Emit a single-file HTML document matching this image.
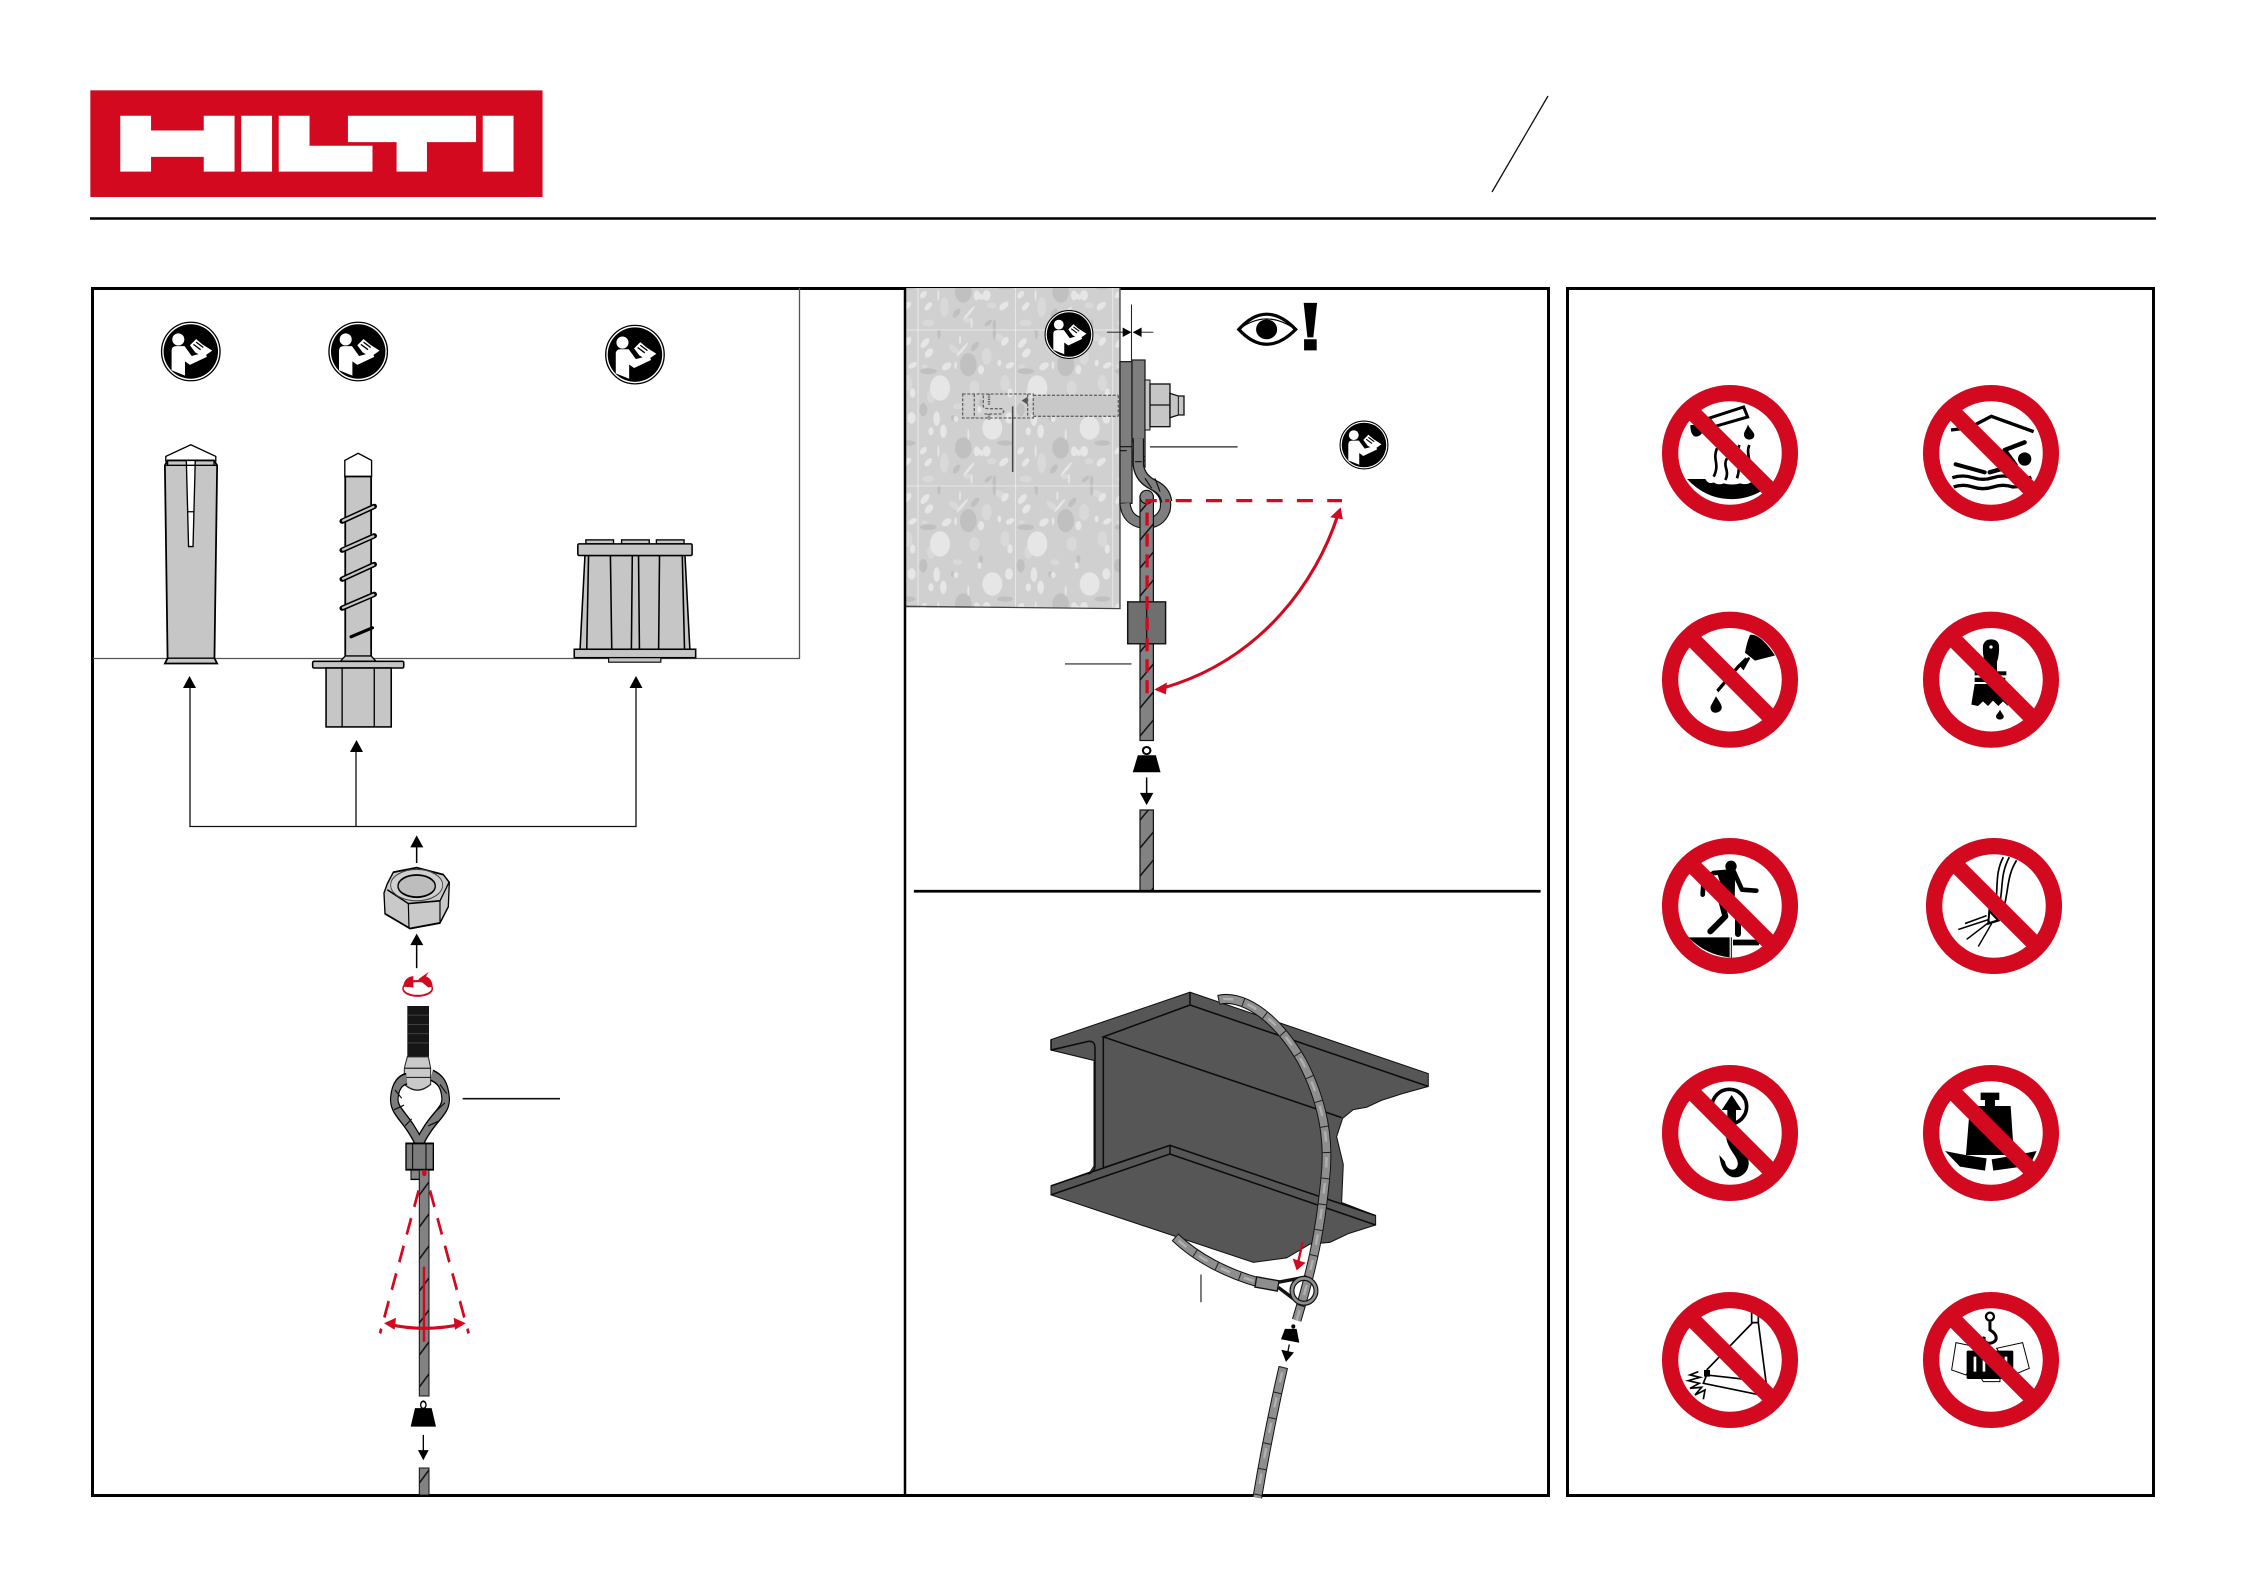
<!DOCTYPE html>
<html><head><meta charset="utf-8"><title>Hilti</title>
<style>html,body{margin:0;padding:0;background:#fff}svg{display:block}</style></head>
<body>
<svg xmlns="http://www.w3.org/2000/svg" width="2246" height="1588" viewBox="0 0 2246 1588">
<defs>
<g id="rd">
  <circle r="65.500" fill="#fff" stroke="#000" stroke-width="3"/><circle r="61" fill="#000"/>
  <circle cx="-28" cy="-27" r="13.500" fill="#fff"/>
  <path d="M-43,-2Q-43,-12 -32,-12L-14,-12L2,10L32,2L36,12L-2,30L-13,22V54L-43,42Z" fill="#fff"/>
  <path d="M-2,-14L12,-28L26,-16L48,-2L28,12L10,2Z" fill="#fff"/>
  <path d="M6,-16L22,-4M12,-21L28,-9" stroke="#000" stroke-width="3" fill="none"/>
</g>
<pattern id="hatch1" patternUnits="userSpaceOnUse" x="419.300" y="1170" width="9.700" height="32">
  <rect width="9.700" height="32" fill="#828282"/>
  <path d="M0,25L9.700,12" stroke="#111" stroke-width="1.500"/>
</pattern>
<pattern id="hatch2" patternUnits="userSpaceOnUse" x="1140" y="490" width="13.400" height="28">
  <rect width="13.400" height="28" fill="#828282"/>
  <path d="M0,22L13.400,6" stroke="#111" stroke-width="1.500"/>
</pattern>
<pattern id="con" patternUnits="userSpaceOnUse" x="38" y="125" width="292" height="468">
  <rect width="292" height="468" fill="#d0d0d0"/>
  <g fill="#d9d9d9">
    <ellipse cx="207" cy="80" rx="15" ry="25"/><ellipse cx="247" cy="25" rx="18" ry="10" transform="rotate(30 247 25)"/>
    <ellipse cx="32" cy="448" rx="18" ry="10"/><ellipse cx="80" cy="400" rx="13" ry="30"/><ellipse cx="120" cy="230" rx="14" ry="9"/>
    <ellipse cx="170" cy="175" rx="15" ry="22"/><ellipse cx="222" cy="395" rx="14" ry="9"/><ellipse cx="40" cy="200" rx="12" ry="20"/>
    <ellipse cx="110" cy="60" rx="20" ry="9" transform="rotate(40 110 60)"/><ellipse cx="262" cy="160" rx="14" ry="24"/>
    <ellipse cx="150" cy="440" rx="13" ry="8"/><ellipse cx="20" cy="110" rx="10" ry="6"/>
  </g>
  <g fill="#c0c0c0">
    <ellipse cx="152" cy="105" rx="25" ry="35"/><ellipse cx="32" cy="125" rx="25" ry="9"/><ellipse cx="137" cy="355" rx="25" ry="32"/>
    <ellipse cx="17" cy="240" rx="12" ry="20"/><ellipse cx="262" cy="340" rx="24" ry="8"/><ellipse cx="117" cy="418" rx="16" ry="8" transform="rotate(-55 117 418)"/>
    <ellipse cx="172" cy="50" rx="17" ry="8" transform="rotate(-50 172 50)"/><ellipse cx="212" cy="448" rx="14" ry="6" transform="rotate(-40 212 448)"/>
    <ellipse cx="230" cy="8" rx="5" ry="22"/><ellipse cx="230" cy="455" rx="5" ry="18"/><ellipse cx="64" cy="8" rx="5" ry="20"/>
    <ellipse cx="105" cy="265" rx="5" ry="9"/><ellipse cx="190" cy="220" rx="6" ry="12"/>
  </g>
  <g fill="#e6e6e6">
    <ellipse cx="67" cy="175" rx="30" ry="38"/><ellipse cx="224" cy="295" rx="30" ry="35"/>
    <ellipse cx="22" cy="40" rx="18" ry="9" transform="rotate(-50 22 40)"/><ellipse cx="34" cy="70" rx="16" ry="10" transform="rotate(-50 34 70)"/>
    <ellipse cx="87" cy="110" rx="16" ry="10" transform="rotate(-35 87 110)"/><ellipse cx="277" cy="107" rx="14" ry="8" transform="rotate(-30 277 107)"/>
    <ellipse cx="114" cy="107" rx="4" ry="12"/><ellipse cx="17" cy="363" rx="13" ry="8" transform="rotate(-50 17 363)"/>
    <ellipse cx="32" cy="398" rx="15" ry="8" transform="rotate(-50 32 398)"/><ellipse cx="154" cy="418" rx="26" ry="4" transform="rotate(-50 154 418)"/>
    <ellipse cx="187" cy="368" rx="13" ry="8" transform="rotate(45 187 368)"/><ellipse cx="257" cy="398" rx="15" ry="9" transform="rotate(-45 257 398)"/>
    <ellipse cx="162" cy="448" rx="3" ry="15"/><ellipse cx="57" cy="267" rx="10" ry="22"/><ellipse cx="77" cy="305" rx="10" ry="20"/>
    <ellipse cx="274" cy="265" rx="12" ry="17"/><ellipse cx="207" cy="365" rx="12" ry="16"/><ellipse cx="177" cy="365" rx="9" ry="15"/>
    <ellipse cx="152" cy="315" rx="3" ry="16"/><ellipse cx="62" cy="365" rx="3" ry="18"/><ellipse cx="134" cy="60" rx="26" ry="4" transform="rotate(-50 134 60)"/>
    <ellipse cx="127" cy="30" rx="3" ry="14"/><ellipse cx="262" cy="35" rx="15" ry="9" transform="rotate(-55 262 35)"/>
    <ellipse cx="277" cy="190" rx="8" ry="14"/><ellipse cx="190" cy="120" rx="9" ry="14"/><ellipse cx="115" cy="268" rx="7" ry="9"/>
    <ellipse cx="245" cy="100" rx="6" ry="10"/><ellipse cx="185" cy="240" rx="6" ry="10"/><ellipse cx="40" cy="305" rx="8" ry="12"/>
    <ellipse cx="262" cy="395" rx="13" ry="8" transform="rotate(-45 262 395)"/>
  </g>
  <path d="M0,0H292M0,0V468" stroke="#f2f2f2" stroke-width="4" fill="none"/>
</pattern>
</defs>
<rect width="2246" height="1588" fill="#fff"/>

<!-- header + logo + panels -->
<g transform="translate(60 60) scale(.4464)">
  <rect x="68" y="68" width="1013" height="239" fill="#d2091f"/>
  <path fill="#fff" d="M135,125H204V158H322V125H391V250H322V217H204V250H135ZM406,125H475V250H406ZM490,125H559V192H700V250H490ZM645,125H932V184H822V250H754V184H645ZM947,125H1016V250H947Z"/>
</g>
<line x1="90" y1="218.500" x2="2156" y2="218.500" stroke="#000" stroke-width="2.500"/>
<line x1="1548" y1="96" x2="1492" y2="192" stroke="#111" stroke-width="1.300"/>
<rect x="92.500" y="288.500" width="1456" height="1207" fill="none" stroke="#000" stroke-width="3"/>
<rect x="1567.500" y="288.500" width="586" height="1207" fill="none" stroke="#000" stroke-width="3"/>
<path d="M93,658.500H799.500V288" fill="none" stroke="#555" stroke-width="1.300"/>

<!-- panel 1 anchors -->
<g transform="translate(60 60) scale(.4464)" stroke="#000" stroke-width="3">
  <use href="#rd" transform="translate(293 653)" stroke="none"/>
  <use href="#rd" transform="translate(668 653)" stroke="none"/>
  <use href="#rd" transform="translate(1288 660)" stroke="none"/>
  <path d="M237,900V888L293,862L349,888V900" fill="#fff"/>
  <path d="M241,897H345L352,908L346,1340L352,1352H235L241,1340L235,908Z" fill="#c6c6c6" stroke-width="4"/>
  <path d="M283,897H303L298,1090H288Z" fill="#fff" stroke-width="3"/>
  <path d="M285,1012H301M241,1340H346M235,908H352M241,897V908M345,897V908" fill="none"/>
  <path d="M638,935V897L668,881L698,897V935" fill="#fff"/>
  <rect x="639" y="933" width="58" height="405" fill="#c6c6c6" stroke-width="4"/>
  <path d="M639,1335L628,1347H708L697,1335Z" fill="#c6c6c6"/>
  <rect x="566" y="1347" width="204" height="15" rx="3" fill="#c6c6c6" stroke-width="3.500"/>
  <rect x="596" y="1362" width="146" height="132" fill="#c6c6c6" stroke-width="3.500"/>
  <path d="M632,1362V1494M704,1362V1494" fill="none"/>
  <g fill="none" stroke="#000" stroke-width="12" stroke-linecap="round"><path d="M632,1033L704,1000M632,1098L704,1066M632,1163L704,1130M632,1228L704,1197"/></g>
  <path d="M652,1292L700,1272" fill="none" stroke="#000" stroke-width="7" stroke-linecap="round"/>
  <g fill="none" stroke="#c6c6c6" stroke-width="5" stroke-linecap="round"><path d="M634,1032L702,1001M634,1097L702,1067M634,1162L702,1131M634,1227L702,1198"/></g>
  <rect x="1178" y="1075" width="62" height="9" fill="#c6c6c6"/><rect x="1258" y="1075" width="62" height="9" fill="#c6c6c6"/><rect x="1336" y="1075" width="62" height="9" fill="#c6c6c6"/>
  <path d="M1176,1110H1400L1411,1320H1165Z" fill="#c6c6c6" stroke-width="3.500"/>
  <rect x="1160" y="1084" width="256" height="26" rx="3" fill="#c6c6c6" stroke-width="3.500"/>
  <rect x="1152" y="1320" width="272" height="19" fill="#c6c6c6" stroke-width="3.500"/>
  <rect x="1229" y="1339" width="117" height="10" fill="#c6c6c6" stroke-width="2.500"/>
  <path d="M1184,1112L1180,1320M1233,1110L1236,1320M1282,1110L1280,1320M1296,1110L1298,1320M1343,1110L1341,1320M1394,1112L1399,1320" fill="none" stroke-width="3.500"/>
</g>

<!-- arrows to anchors -->
<g fill="none" stroke="#111" stroke-width="1.300">
  <path d="M190,686V826.500H636V686"/><path d="M356,750V826.500"/>
</g>
<g fill="#000">
  <path d="M189.500,676L183,688H196Z"/><path d="M356.500,740L350,752H363Z"/><path d="M636,676L629.500,688H642.500Z"/>
</g>

<!-- panel 1 lower assembly -->
<g transform="translate(300 780) scale(.3333 .4612)">
  <path d="M350,180V140" stroke="#000" stroke-width="4.500" fill="none"/><path d="M350,120L331,146H370Z"/>
  <path d="M350,408V355" stroke="#000" stroke-width="4.500" fill="none"/><path d="M350,333L331,358H370Z"/>
  <path d="M252,245L262,225L280,200L350,190L430,205L448,222L445,275L420,310L330,322L255,290Z" fill="#c9c9c9" stroke="#000" stroke-width="4"/>
  <path d="M262,238L325,268L420,262L447,222M325,268L327,320M420,262V310" fill="none" stroke="#000" stroke-width="3.500"/>
  <ellipse cx="350" cy="228" rx="78" ry="34" fill="#d0d0d0" stroke="#444" stroke-width="2.500"/>
  <ellipse cx="350" cy="230" rx="56" ry="24" fill="#bdbdbd" stroke="#000" stroke-width="4"/>
  <ellipse cx="353" cy="452" rx="44" ry="16" fill="#fff" stroke="#d2091f" stroke-width="4.500"/>
  <path d="M310,448Q312,428 340,425V450ZM398,448Q396,430 378,426L386,416L355,432L385,450Z" fill="#d2091f"/>
  <rect x="322" y="490" width="65" height="110" fill="#161616"/>
  <path d="M322,510H387M322,530H387M322,550H387M322,570H387" stroke="#444" stroke-width="2"/>
  <path d="M322,600H385L392,625V660Q352,685 313,660V625Z" fill="#c9c9c9" stroke="#222" stroke-width="3"/>
  <path d="M314,625H392M314,645H392" stroke="#222" stroke-width="2.500"/>
  <path d="M358,788C320,730 280,720 283,690C286,660 305,650 320,648M358,788C395,730 440,720 437,690C434,660 420,648 395,640" fill="none" stroke="#000" stroke-width="26"/>
  <path d="M358,788C320,730 280,720 283,690C286,660 305,650 320,648M358,788C395,730 440,720 437,690C434,660 420,648 395,640" fill="none" stroke="#7c7c7c" stroke-width="19"/>
  <path d="M285,672L305,690M282,715L312,705M315,750L335,735M420,660L440,680M405,720L435,700M385,750L415,740" stroke="#111" stroke-width="3"/>
  <rect x="333" y="845" width="26" height="21" fill="#888" stroke="#000" stroke-width="3"/>
  <rect x="318" y="788" width="82" height="57" fill="#7c7c7c" stroke="#000" stroke-width="4"/>
  <path d="M338,788V845M378,788V845" stroke="#000" stroke-width="3"/>
  <path d="M332,1402L345,1362H395L408,1402Z"/><circle cx="370" cy="1355" r="8" fill="#fff" stroke="#000" stroke-width="4"/>
  <path d="M370,1420V1455" stroke="#000" stroke-width="4"/><path d="M370,1475L354,1453H386Z"/>
  <path d="M488,691H780" stroke="#111" stroke-width="3.500"/>
</g>
<rect x="419.300" y="1170" width="9.700" height="226" fill="url(#hatch1)" stroke="#111" stroke-width="1"/>
<rect x="419.300" y="1468" width="9.700" height="27" fill="url(#hatch1)" stroke="#111" stroke-width="1"/>
<g transform="translate(300 780) scale(.3333 .4612)" fill="none" stroke="#d2091f">
  <path d="M356,890L240,1200M390,890L506,1200" stroke-width="8" stroke-dasharray="38 26"/>
  <path d="M372,1055V1218" stroke-width="7.500"/>
  <path d="M265,1180Q372,1198 485,1180" stroke-width="7"/>
  <path d="M252,1178L288,1166L284,1192Z" fill="#d2091f" stroke="none"/><path d="M497,1178L461,1166L465,1192Z" fill="#d2091f" stroke="none"/>
  <circle cx="373" cy="852" r="7" fill="#d2091f" stroke="none"/>
</g>

<!-- panel 2 upper: concrete (3x crop units) -->
<g transform="translate(905 288) scale(.3333)">
  <rect x="2" y="0" width="643" height="960" fill="url(#con)"/>
  <path d="M2,955L645,962V0" fill="none" stroke="#444" stroke-width="4"/>
  <rect x="385" y="322" width="255" height="63" fill="#c8c8c8"/>
  <g fill="none" stroke="#666" stroke-width="4" stroke-dasharray="9 5">
    <rect x="173" y="318" width="212" height="72"/><path d="M385,322H640M385,385H640M208,318V390M368,318V390M640,322V385"/>
    <path d="M235,322V355Q236,362 250,362H290Q302,370 290,378H238"/>
  </g>
  <path d="M252,318V352M252,378V395" stroke="#666" stroke-width="7" stroke-dasharray="4 3"/>
  <path d="M368,326L350,338L368,350Z" fill="#555"/>
  <path d="M323,355V552" stroke="#444" stroke-width="4.500"/>
</g>
<line x1="905" y1="288" x2="905" y2="1496" stroke="#000" stroke-width="2.500"/>

<!-- dimension + hardware -->
<g transform="translate(900 280) scale(.4209 .3954)">
  <path d="M550,62V205" stroke="#222" stroke-width="2.500"/>
  <path d="M492,132H535M555,132H602" stroke="#111" stroke-width="2.500"/>
  <path d="M550,132L529,120V144ZM553,132L574,120V144Z"/>
  <path d="M594,422H802M392,971H550" stroke="#222" stroke-width="3"/>
</g>
<g transform="translate(1110 350) scale(.3333)">
  <rect x="30" y="35" width="36" height="425" fill="#7e7e7e" stroke="#222" stroke-width="4"/>
  <path d="M66,30H105V350L85,330L66,262Z" fill="#7e7e7e" stroke="#222" stroke-width="4"/>
  <path d="M30,290H66M30,302H50M75,320H105M75,332H105" stroke="#111" stroke-width="3.500"/>
  <rect x="105" y="90" width="15" height="150" fill="#c6c6c6" stroke="#111" stroke-width="3"/>
  <rect x="120" y="102" width="60" height="128" fill="#c6c6c6" stroke="#111" stroke-width="4"/>
  <path d="M120,165H180" stroke="#111" stroke-width="4"/>
  <path d="M180,130L205,138H222V195H205L180,203Z" fill="#c6c6c6" stroke="#111" stroke-width="4"/>
  <path d="M205,138V195" stroke="#111" stroke-width="3"/>
  <path d="M85,265V345Q90,385 130,405Q175,430 165,480Q150,522 100,520Q50,512 45,460" fill="none" stroke="#111" stroke-width="34"/>
  <path d="M85,265V345Q90,385 130,405Q175,430 165,480Q150,522 100,520Q50,512 45,460" fill="none" stroke="#7e7e7e" stroke-width="27"/>
</g>
<rect x="1140" y="496" width="13.400" height="244.500" fill="url(#hatch2)" stroke="#111" stroke-width="1.200"/>
<circle cx="1146.700" cy="497" r="6.700" fill="#828282" stroke="#111" stroke-width="1.200"/>
<rect x="1140" y="810" width="13.400" height="81" fill="url(#hatch2)" stroke="#111" stroke-width="1.200"/>
<g transform="translate(1110 350) scale(.3333)">
  <path d="M85,300V345Q90,385 130,405Q165,420 170,455" fill="none" stroke="#111" stroke-width="34"/>
  <path d="M85,300V345Q90,385 130,405Q165,420 170,455" fill="none" stroke="#7e7e7e" stroke-width="27"/>
  <path d="M105,385L125,415M135,385L150,425M75,335H95" stroke="#111" stroke-width="3.500"/>
</g>
<g transform="translate(900 280) scale(.4209 .3954)">
  <rect x="541" y="814" width="90" height="106" fill="#6f6f6f" stroke="#111" stroke-width="3.500"/>
  <path d="M586,814V920" stroke="#111" stroke-width="3"/>
  <path d="M587,1045V558H640" fill="none" stroke="#d2091f" stroke-width="8" stroke-dasharray="33 20"/>
  <path d="M655,558H1050" fill="none" stroke="#d2091f" stroke-width="8" stroke-dasharray="38 34"/>
  <path d="M1040,595C990,760 860,960 625,1032" fill="none" stroke="#d2091f" stroke-width="7.500"/>
  <path d="M1047,575L1022,600L1052,605ZM604,1036L634,1018L632,1048Z" fill="#d2091f"/>
  <path d="M553,1245L565,1202H608L619,1245Z"/><circle cx="586" cy="1190" r="9" fill="#fff" stroke="#000" stroke-width="5"/>
  <path d="M586,1258V1302" stroke="#000" stroke-width="3.500"/><path d="M586,1328L570,1297H602Z"/>
  <path d="M33,1546H1522" stroke="#000" stroke-width="7"/>
  <path d="M805,125Q870,48 940,125Q870,200 805,125Z" fill="#fff" stroke="#000" stroke-width="8"/>
  <path d="M805,125Q870,72 940,125" fill="none" stroke="#000" stroke-width="3"/>
  <circle cx="871" cy="125" r="25"/>
  <path d="M959,58H991L982,145H968ZM960,150H990V178H960Z"/>
</g>
<use href="#rd" transform="translate(1069 334.500) scale(.365)"/>
<use href="#rd" transform="translate(1364 445) scale(.365)"/>

<!-- panel 2 lower beam -->
<g transform="translate(1020 960) scale(.3333 .3464)">
  <path d="M93,230L510,93L1225,328V365L1150,385L1085,405L1040,425L1000,432L968,457L950,510L970,590L965,700L1067,738V765L985,790L930,815L870,820L800,860L700,873L93,678V652L210,612L222,595V290L93,260Z" fill="#565656" stroke="#111" stroke-width="3"/>
  <g fill="none" stroke="#0c0c0c" stroke-width="4.500">
    <path d="M510,93V130L250,222L890,430L965,455M510,130L1225,365"/>
    <path d="M93,260L205,235Q225,232 225,255V595Q225,610 205,618M250,222V600M93,678L450,560V535L93,652M450,535L1067,738M450,560L1067,765M250,600L450,535"/>
    <path d="M93,230V260"/>
  </g>
  <g fill="none">
    <path d="M595,115C660,100 760,150 845,290C910,410 930,520 915,640C900,780 880,880 830,1040M465,800C530,860 620,905 720,932M790,1175C760,1300 735,1420 712,1552" stroke="#111" stroke-width="29"/>
    <path d="M595,115C660,100 760,150 845,290C910,410 930,520 915,640C900,780 880,880 830,1040M465,800C530,860 620,905 720,932M790,1175C760,1300 735,1420 712,1552" stroke="#8e8e8e" stroke-width="23"/>
    <path d="M595,115C660,100 760,150 845,290C910,410 930,520 915,640C900,780 880,880 830,1040M465,800C530,860 620,905 720,932M790,1175C760,1300 735,1420 712,1552" stroke="#222" stroke-width="23" stroke-dasharray="3 72"/>
    <path d="M595,115C660,100 760,150 845,290C910,410 930,520 915,640C900,780 880,880 830,1040M465,800C530,860 620,905 720,932M790,1175C760,1300 735,1420 712,1552" stroke="#b0b0b0" stroke-width="7" stroke-dasharray="30 45" stroke-dashoffset="-15"/>
  </g>
  <rect x="707" y="920" width="68" height="30" fill="#8d8d8d" stroke="#111" stroke-width="4" transform="rotate(10 740 935)"/>
  <path d="M775,930L860,915M775,945L830,985" stroke="#111" stroke-width="10"/>
  <circle cx="852" cy="955" r="36" fill="none" stroke="#111" stroke-width="15"/><circle cx="852" cy="955" r="36" fill="none" stroke="#8d8d8d" stroke-width="8"/>
  <path d="M848,815L835,870" stroke="#d2091f" stroke-width="7"/><path d="M818,862L857,874L830,896Z" fill="#d2091f"/>
  <path d="M783,1095L795,1065H830L838,1105Z"/><circle cx="820" cy="1058" r="6" fill="#000"/>
  <path d="M808,1110L803,1135" stroke="#000" stroke-width="4"/><path d="M798,1160L784,1125L822,1133Z"/>
  <path d="M543,908V988" stroke="#222" stroke-width="3.500"/>
</g>

<!-- sign icons: 3x crop units -->
<g transform="translate(1662 385) scale(.3333)">
  <path d="M140,100L245,66L257,96L160,124Z" fill="#fff" stroke="#000" stroke-width="9"/>
  <path d="M85,120H125Q125,155 100,155Q85,150 85,120Z"/>
  <path d="M258,118C262,132 278,140 277,152C275,168 248,168 246,150C245,140 255,130 258,118Z"/>
  <path d="M165,190C150,225 175,235 155,275M195,220C180,245 205,255 190,285M232,180C220,215 240,235 225,280M262,180C250,210 272,220 255,262" fill="none" stroke="#000" stroke-width="8"/>
  <path d="M75,282H130Q140,300 155,292Q170,302 185,295Q210,302 235,295Q255,302 270,290L330,285L295,320Q250,345 200,342Q130,340 75,282Z"/>
</g>
<g transform="translate(1923 385) scale(.3333)">
  <path d="M84,135L140,128L205,94L332,140" fill="none" stroke="#000" stroke-width="10"/>
  <circle cx="305" cy="222" r="20"/>
  <path d="M305,172L245,195L278,240L200,262" fill="none" stroke="#000" stroke-width="13" stroke-linecap="round" stroke-linejoin="round"/>
  <path d="M98,238L185,262" fill="none" stroke="#000" stroke-width="12" stroke-linecap="round"/>
  <path d="M88,278Q120,268 150,278T210,278T270,278T325,276M92,306Q120,296 150,306T210,306T270,306L296,304" fill="none" stroke="#000" stroke-width="10"/>
</g>
<g transform="translate(1923 612) scale(.3333)">
  <path d="M180,100Q185,82 204,82Q225,82 228,100Q230,125 222,150V178H188L185,150Q178,125 180,100Z"/>
  <circle cx="204" cy="105" r="5" fill="#fff"/>
  <rect x="155" y="178" width="95" height="12"/><rect x="155" y="197" width="92" height="13"/>
  <path d="M155,216H242L255,282L240,268L226,282L210,266L195,282L180,268L165,282L145,278Z"/>
  <path d="M231,293C236,305 244,310 242,316C238,325 222,325 219,315C218,308 226,305 231,293Z"/>
</g>
<g transform="translate(1662 838) scale(.3333)">
  <circle cx="207" cy="85" r="17"/>
  <path d="M155,105L215,100L240,155L283,158M155,105L125,125L122,170" fill="none" stroke="#000" stroke-width="14" stroke-linecap="round" stroke-linejoin="round"/>
  <path d="M165,105L220,100L218,185L190,180Z"/>
  <path d="M172,165L190,235L145,280M200,190L228,240V288" fill="none" stroke="#000" stroke-width="18" stroke-linecap="round" stroke-linejoin="round"/>
  <path d="M80,298H203V358Q130,350 80,298ZM213,305H298L290,322H213Z"/>
  <path d="M208,298V360" stroke="#000" stroke-width="3"/>
</g>
<g transform="translate(1640 370) scale(.3333 .3954)">
  <path d="M330,670Q360,665 405,722L345,735L315,715Q320,690 330,670Z"/>
  <path d="M320,730L295,750L232,812" fill="none" stroke="#000" stroke-width="9"/><path d="M300,745L328,728L310,755Z" stroke="#000" stroke-width="6"/>
  <path d="M228,825C240,842 250,850 243,860C232,872 208,868 212,850Z"/>
  <g fill="none" stroke="#000" stroke-width="7">
    <path d="M1090,1232C1060,1280 1080,1320 1060,1370M1130,1240C1095,1285 1110,1330 1080,1385M1108,1232C1075,1285 1095,1320 1070,1375" stroke-width="5"/>
    <path d="M1048,1368L1075,1392L1045,1400Z" stroke-width="6"/>
    <path d="M1045,1390L955,1415M1050,1395L980,1440M1055,1400L1015,1458M1040,1380L975,1400" stroke-width="4"/>
  </g>
</g>
<g transform="translate(1640 1040) scale(.3333)">
  <circle cx="268" cy="200" r="52" fill="none" stroke="#000" stroke-width="11"/>
  <path d="M275,165L305,210H288V255H262V210H245Z"/>
  <path d="M258,285C300,310 345,355 318,395C295,425 245,420 238,345L255,365C260,395 290,395 293,375C298,350 260,330 258,285Z"/>
  <path d="M1022,158H1078V180H1065V198H1112L1122,345H978L990,198H1035V180H1022Z"/>
  <path d="M915,333Q970,345 1040,355L1035,392L960,380ZM1190,333Q1130,345 1055,358L1060,392L1130,382L1175,365Z"/>
  <path d="M335,818V848H355V818M338,848L200,990M355,848L378,1025L200,1005L190,1030L360,1065" fill="none" stroke="#000" stroke-width="5"/>
  <rect x="192" y="990" width="18" height="20"/>
  <path d="M175,995L150,1005L180,1012L145,1022L178,1030L150,1045L185,1042L165,1065L195,1050L190,1078" fill="none" stroke="#000" stroke-width="5"/>
  <circle cx="1050" cy="830" r="12" fill="#fff" stroke="#000" stroke-width="7"/>
  <path d="M1050,845V870C1075,885 1075,905 1050,910C1035,910 1030,900 1033,890" fill="none" stroke="#000" stroke-width="9"/>
  <path d="M948,908L1030,925L978,1005L935,990ZM1148,908L1070,925L1120,1005L1168,985ZM1025,1017L1030,1025H1080V1017" fill="#fff" stroke="#000" stroke-width="3"/>
  <rect x="980" y="932" width="140" height="85" rx="4" fill="#000"/>
  <path d="M1005,950V995M1032,950V995M1098,950V995" stroke="#fff" stroke-width="8"/>
</g>
<!-- prohibition rings -->
<g fill="none" stroke="#d2091f">
  <g id="s"><circle cx="1730" cy="453" r="59.900" stroke-width="16.300"/><path d="M1689.500,409.500L1773.500,493.500" stroke-width="16"/></g>
  <use href="#s" x="261"/>
  <use href="#s" y="226.700"/><use href="#s" x="261" y="226.700"/>
  <use href="#s" y="453"/><use href="#s" x="264" y="453"/>
  <use href="#s" y="680"/><use href="#s" x="261" y="680"/>
  <use href="#s" y="907"/><use href="#s" x="261" y="907"/>
</g>
</svg>
</body></html>
